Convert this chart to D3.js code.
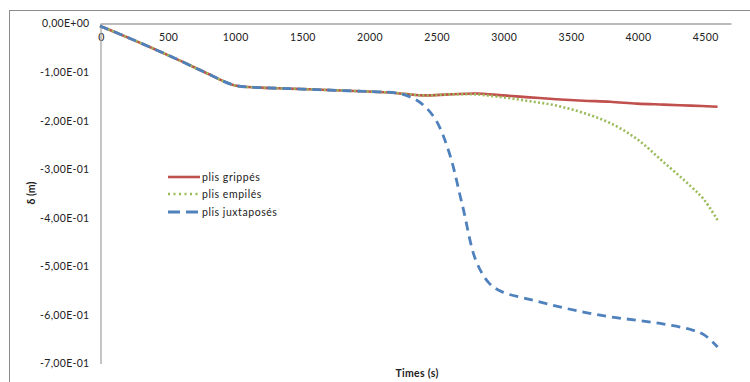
<!DOCTYPE html>
<html><head><meta charset="utf-8">
<script src="https://cdn.jsdelivr.net/npm/d3@7"></script>
<style>body{margin:0;background:#fff}svg{display:block}text{font-family:Lato,"Open Sans",sans-serif}</style>
</head><body><svg id="c" width="750" height="382"></svg>
<script>
const xTicks = [0,500,1000,1500,2000,2500,3000,3500,4000,4500];
const yTicks = [0,-0.1,-0.2,-0.3,-0.4,-0.5,-0.6,-0.7];
const yTickLabels = ["0,00E+00","-1,00E-01","-2,00E-01","-3,00E-01","-4,00E-01","-5,00E-01","-6,00E-01","-7,00E-01"];
const seriesNames = ["plis grippés","plis empilés","plis juxtaposés"];

const grippesT = [0,200,400,600,800,1000,1200,1400,1600,1800,2000,2200,2400,2600,2800,3000,3200,3400,3600,3800,4000,4200,4400,4600];
const grippesV = [-0.005,-0.028,-0.052,-0.077,-0.103,-0.127,-0.132,-0.134,-0.136,-0.138,-0.140,-0.143,-0.148,-0.146,-0.144,-0.148,-0.152,-0.156,-0.159,-0.161,-0.165,-0.167,-0.169,-0.1715];

const empilesT = [0,200,400,600,800,1000,1200,1400,1600,1800,2000,2200,2400,2600,2800,3000,3200,3400,3600,3800,4000,4200,4400,4500,4600];
const empilesV = [-0.005,-0.028,-0.052,-0.077,-0.103,-0.127,-0.132,-0.134,-0.136,-0.138,-0.140,-0.143,-0.148,-0.146,-0.146,-0.152,-0.160,-0.169,-0.184,-0.205,-0.238,-0.286,-0.335,-0.363,-0.405];

const juxtT = [0,200,400,600,800,1000,1200,1400,1600,1800,2000,2200,2300,2400,2500,2600,2700,2800,2900,3000,3200,3400,3600,3800,4000,4200,4400,4500,4600];
const juxtV = [-0.005,-0.028,-0.052,-0.077,-0.103,-0.127,-0.132,-0.134,-0.136,-0.138,-0.140,-0.143,-0.150,-0.166,-0.198,-0.265,-0.375,-0.488,-0.535,-0.553,-0.568,-0.582,-0.594,-0.604,-0.611,-0.619,-0.630,-0.641,-0.666];

const svg = d3.select("#c");
const x = d3.scaleLinear().domain([0,4700]).range([100,731]);
const y = d3.scaleLinear().domain([0,-0.7]).range([23.5,363.5]);

svg.append("rect").attr("x",9.5).attr("y",10.5).attr("width",760).attr("height",400)
  .attr("fill","none").attr("stroke","#8c8c8c");

const xAxis = svg.append("g").attr("transform","translate(0,23.5)")
  .call(d3.axisBottom(x).tickValues(xTicks).tickSize(0).tickPadding(10).tickFormat(d=>d));
xAxis.select(".domain").attr("stroke","#a6a6a6").attr("stroke-width",1.3);
xAxis.selectAll("text").attr("font-size",10.5).attr("letter-spacing",0.4).attr("fill","#222").attr("dx",1);

const yAxis = svg.append("g").attr("transform","translate(100.5,0)")
  .call(d3.axisLeft(y).tickValues(yTicks).tickSize(0).tickPadding(11).tickFormat((d,i)=>yTickLabels[i]));
yAxis.select(".domain").attr("stroke","#a6a6a6").attr("stroke-width",1.3);
yAxis.selectAll("text").attr("font-size",10.5).attr("letter-spacing",0.3).attr("fill","#222");

const line = d3.line().curve(d3.curveCatmullRom.alpha(0.5)).x(d=>x(d[0])).y(d=>y(d[1]));
const series = [
  {t:grippesT,v:grippesV,color:"#c0504d",dash:null,legDash:null,w:2.6},
  {t:empilesT,v:empilesV,color:"#9bbb59",dash:"2,2.3",legDash:"2,3.5",w:2.6},
  {t:juxtT,v:juxtV,color:"#4f81bd",dash:"9,6",legDash:"12,6",w:2.8}
];
series.forEach(s=>{
  svg.append("path").datum(s.t.map((t,i)=>[t,s.v[i]]))
    .attr("d",line).attr("fill","none").attr("stroke",s.color)
    .attr("stroke-width",s.w).attr("stroke-dasharray",s.dash);
});

const leg = svg.append("g");
const legY = [177,194,212];
series.forEach((s,i)=>{
  leg.append("line").attr("x1",168).attr("x2",200).attr("y1",legY[i]).attr("y2",legY[i])
    .attr("stroke",s.color).attr("stroke-width",s.w).attr("stroke-dasharray",s.legDash);
  leg.append("text").attr("x",202).attr("y",legY[i]).attr("dy","0.35em")
    .attr("font-size",10.5).attr("letter-spacing",0.55).attr("fill","#222").text(seriesNames[i]);
});

svg.append("text").attr("transform","translate(35,193) rotate(-90)").attr("text-anchor","middle")
  .attr("font-size",10.5).attr("font-weight","bold").attr("fill","#222").text("δ (m)");
svg.append("text").attr("x",417).attr("y",377).attr("text-anchor","middle")
  .attr("font-size",10.5).attr("font-weight","bold").attr("letter-spacing",0.3).attr("fill","#222").text("Times (s)");
</script></body></html>
